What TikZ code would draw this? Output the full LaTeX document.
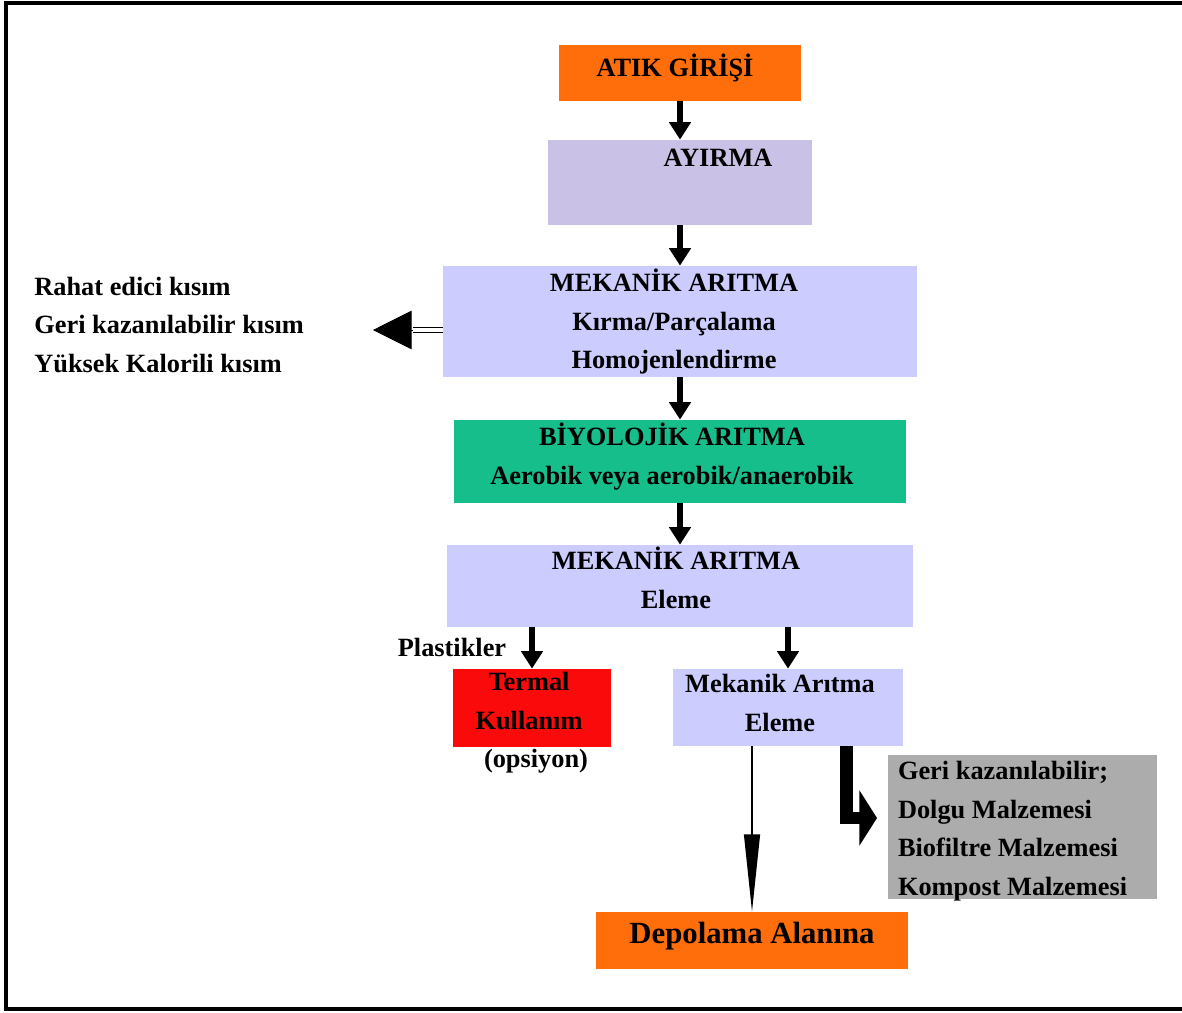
\documentclass[tikz,border=0pt]{standalone}
\usepackage{fontspec}
\setmainfont{Liberation Serif}
\usetikzlibrary{arrows.meta}
\definecolor{atikorange}{RGB}{255,110,10}
\definecolor{ayirmalav}{RGB}{202,194,230}
\definecolor{mekblue}{RGB}{204,204,255}
\definecolor{biogreen}{RGB}{22,190,140}
\definecolor{termalred}{RGB}{250,10,10}
\definecolor{geribox}{RGB}{172,172,172}
\newcommand\stagefont{\fontsize{15}{22}\selectfont\bfseries}
\tikzset{
  stage/.style={rectangle, inner sep=0pt},
  txt/.style={inner sep=0pt, align=center, font=\stagefont},
  flow/.style={line width=3.2pt, -{Triangle[length=10pt,width=12pt]}},
}
\begin{document}
\begin{tikzpicture}[x=0.02cm, y=-0.02cm]
\useasboundingbox (0,0) rectangle (1182,1012);
% frame
\draw[line width=2.2pt] (1182,3) -- (6,3) -- (6,1009) -- (1182,1009);
% main line
\node[stage, fill=atikorange, minimum width=4.84cm, minimum height=1.12cm] (atik) at (680,73) {};
\node[txt] (atiktxt) at ([xshift=-0.1cm,yshift=0.1cm]atik.center) {ATIK GİRİŞİ};
\node[stage, fill=ayirmalav, minimum width=5.3cm, minimum height=1.7cm] (ayirma) at (680,182.5) {};
\node[txt] (ayirmatxt) at (718,158) {AYIRMA};
\node[stage, fill=mekblue, minimum width=9.48cm, minimum height=2.22cm] (mek1) at (680,321.5) {};
\node[txt] (mek1txt) at ([xshift=-0.12cm]mek1.center) {MEKANİK ARITMA\\Kırma/Parçalama\\Homojenlendirme};
\node[stage, fill=biogreen, minimum width=9.06cm, minimum height=1.66cm] (bio) at (680,461.5) {};
\node[txt] (biotxt) at ([xshift=-0.16cm,yshift=0.1cm]bio.center) {BİYOLOJİK ARITMA\\Aerobik veya aerobik/anaerobik};
\node[stage, fill=mekblue, minimum width=9.34cm, minimum height=1.64cm] (mek2) at (680,586) {};
\node[txt] (mek2txt) at ([xshift=-0.08cm,yshift=0.17cm]mek2.center) {MEKANİK ARITMA\\Eleme};
% branches
\node[stage, fill=termalred, minimum width=3.16cm, minimum height=1.56cm] (termal) at (532,708) {};
\node[txt] (termaltxt) at ([xshift=-0.06cm,yshift=0.14cm]termal.center) {Termal\\Kullanım};
\node[txt] (opsiyon) at (536,761) {(opsiyon)};
\node[txt] (plastik) at (452,647) {Plastikler};
\node[stage, fill=mekblue, minimum width=4.6cm, minimum height=1.54cm] (mek3) at (788,707.5) {};
\node[txt] (mek3txt) at ([xshift=-0.16cm,yshift=0.09cm]mek3.center) {Mekanik Arıtma\\Eleme};
\node[stage, fill=geribox, minimum width=5.38cm, minimum height=2.88cm] (geri) at (1022.5,827) {};
\node[txt, align=left, anchor=west] (geritxt) at ([xshift=0.2cm,yshift=-0.08cm]geri.west) {Geri kazanılabilir;\\Dolgu Malzemesi\\Biofiltre Malzemesi\\Kompost Malzemesi};
\node[stage, fill=atikorange, minimum width=6.24cm, minimum height=1.14cm] (depo) at (752,940.5) {};
\node[txt, font=\fontsize{17.5}{22}\selectfont\bfseries] (depotxt) at ([yshift=0.08cm]depo.center) {Depolama Alanına};
\node[txt, align=left, anchor=west] (kisimlar) at (34,325) {Rahat edici kısım\\Geri kazanılabilir kısım\\Yüksek Kalorili kısım};
% arrows
\draw[flow] (atik.south) -- (ayirma.north);
\draw[flow] (ayirma.south) -- (mek1.north);
\draw[flow] (mek1.south) -- (bio.north);
\draw[flow] (bio.south) -- (mek2.north);
\draw[flow] (mek2.south -| termal.north) -- (termal.north);
\draw[flow] (mek2.south -| mek3.north) -- (mek3.north);
\coordinate (solbas) at (413,330);
\coordinate (soluc) at (373,330);
\draw[line width=0.8pt, double, double distance=1.8pt] (mek1.west |- solbas) -- (solbas);
\draw[line width=0.5pt, -{Triangle[length=22pt,width=22pt]}] (solbas) -- (soluc);
\draw[line width=1pt, -{Triangle[length=44pt,width=9pt]}] (depo.north |- mek3.south) -- (depo.north);
\coordinate (geriuc) at (877,818);
\draw[line width=7pt, -{Triangle[length=10pt,width=31pt]}] ([xshift=1.17cm]mek3.south) |- (geriuc);
\end{tikzpicture}
\end{document}
